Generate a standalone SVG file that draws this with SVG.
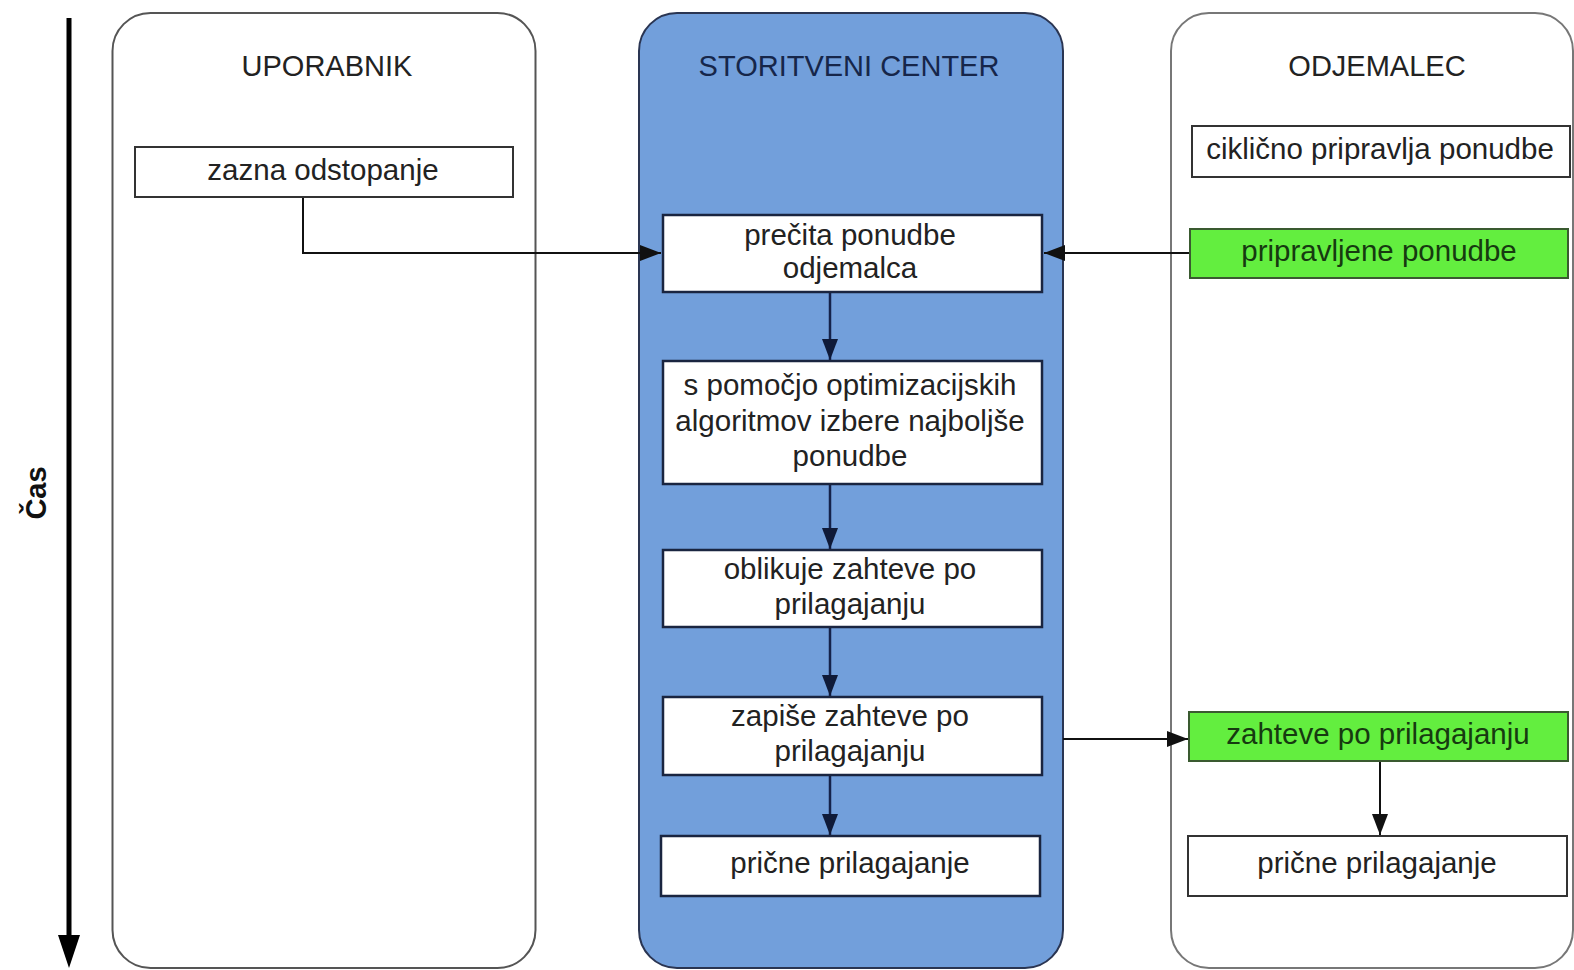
<svg xmlns="http://www.w3.org/2000/svg" width="1574" height="970" viewBox="0 0 1574 970">
<style>
text{font-family:"Liberation Sans",Arial,sans-serif;font-size:29.5px;fill:#222;text-anchor:middle}
.title{font-size:29px}
.box{fill:#fff;stroke:#333;stroke-width:2}
.mbox{fill:#fff;stroke:#1a2540;stroke-width:2.5}
.gbox{fill:#63ee3f;stroke:#3a5a30;stroke-width:2}
.gt{fill:#163a10}
.conn{fill:none;stroke:#111;stroke-width:2}
.mconn{fill:none;stroke:#15224a;stroke-width:2.5}
</style>
<defs>
<marker id="ah" markerUnits="userSpaceOnUse" markerWidth="22" markerHeight="16" refX="21" refY="8" orient="auto"><path d="M0,0 L21,8 L0,16 z" fill="#111"/></marker>
<marker id="mah" markerUnits="userSpaceOnUse" markerWidth="22" markerHeight="16" refX="21" refY="8" orient="auto"><path d="M0,0 L21,8 L0,16 z" fill="#0f1a38"/></marker>
</defs>
<rect width="1574" height="970" fill="#fff"/>

<g id="time-axis">
<path d="M69,18 V936" stroke="#000" stroke-width="5" fill="none"/>
<path d="M58,935 L69,968 L80,935 z" fill="#000"/>
<text transform="translate(46,493) rotate(-90)" style="font-weight:bold;font-size:29px;fill:#111">Čas</text>
</g>

<g id="lane-uporabnik">
<rect x="112.5" y="13" width="423" height="955" rx="38" ry="38" fill="#fff" stroke="#555" stroke-width="2"/>
<text class="title" x="327" y="76">UPORABNIK</text>
</g>
<g id="lane-storitveni-center">
<rect x="639" y="13" width="424" height="955" rx="38" ry="38" fill="#729fdb" stroke="#2a3552" stroke-width="2"/>
<text class="title" x="849" y="76" style="fill:#16264a">STORITVENI CENTER</text>
</g>
<g id="lane-odjemalec">
<rect x="1171" y="13" width="402" height="955" rx="38" ry="38" fill="#fff" stroke="#777" stroke-width="2"/>
<text class="title" x="1377" y="76">ODJEMALEC</text>
</g>

<g id="connectors">
<path class="conn" d="M303,197 V253 H661" marker-end="url(#ah)"/>
<path class="conn" d="M1190,253 H1044" marker-end="url(#ah)"/>
<path class="mconn" d="M830,292 V360" marker-end="url(#mah)"/>
<path class="mconn" d="M830,484 V549" marker-end="url(#mah)"/>
<path class="mconn" d="M830,627 V696" marker-end="url(#mah)"/>
<path class="mconn" d="M830,775 V835" marker-end="url(#mah)"/>
<path class="conn" d="M1063,739 H1188" marker-end="url(#ah)"/>
<path class="conn" d="M1380,761 V835" marker-end="url(#ah)"/>
</g>

<g id="n-zazna">
<rect class="box" x="135" y="147" width="378" height="50"/>
<text x="323" y="180">zazna odstopanje</text>
</g>
<g id="n-precita">
<rect class="mbox" x="663" y="215" width="379" height="77"/>
<text x="850" y="245">prečita ponudbe</text>
<text x="850" y="278">odjemalca</text>
</g>
<g id="n-pomocjo">
<rect class="mbox" x="663" y="361" width="379" height="123"/>
<text x="850" y="395">s pomočjo optimizacijskih</text>
<text x="850" y="431">algoritmov izbere najboljše</text>
<text x="850" y="466">ponudbe</text>
</g>
<g id="n-oblikuje">
<rect class="mbox" x="663" y="550" width="379" height="77"/>
<text x="850" y="579">oblikuje zahteve po</text>
<text x="850" y="614">prilagajanju</text>
</g>
<g id="n-zapise">
<rect class="mbox" x="663" y="697" width="379" height="78"/>
<text x="850" y="726">zapiše zahteve po</text>
<text x="850" y="761">prilagajanju</text>
</g>
<g id="n-pricne-sc">
<rect class="mbox" x="661" y="836" width="379" height="60"/>
<text x="850" y="873">prične prilagajanje</text>
</g>
<g id="n-ciklicno">
<rect class="box" x="1192" y="126" width="378" height="51"/>
<text x="1380" y="159">ciklično pripravlja ponudbe</text>
</g>
<g id="n-pripravljene">
<rect class="gbox" x="1190" y="229" width="378" height="49"/>
<text class="gt" x="1379" y="261">pripravljene ponudbe</text>
</g>
<g id="n-zahteve">
<rect class="gbox" x="1189" y="712" width="379" height="49"/>
<text class="gt" x="1378" y="744">zahteve po prilagajanju</text>
</g>
<g id="n-pricne-odj">
<rect class="box" x="1188" y="836" width="379" height="60"/>
<text x="1377" y="873">prične prilagajanje</text>
</g>
</svg>
